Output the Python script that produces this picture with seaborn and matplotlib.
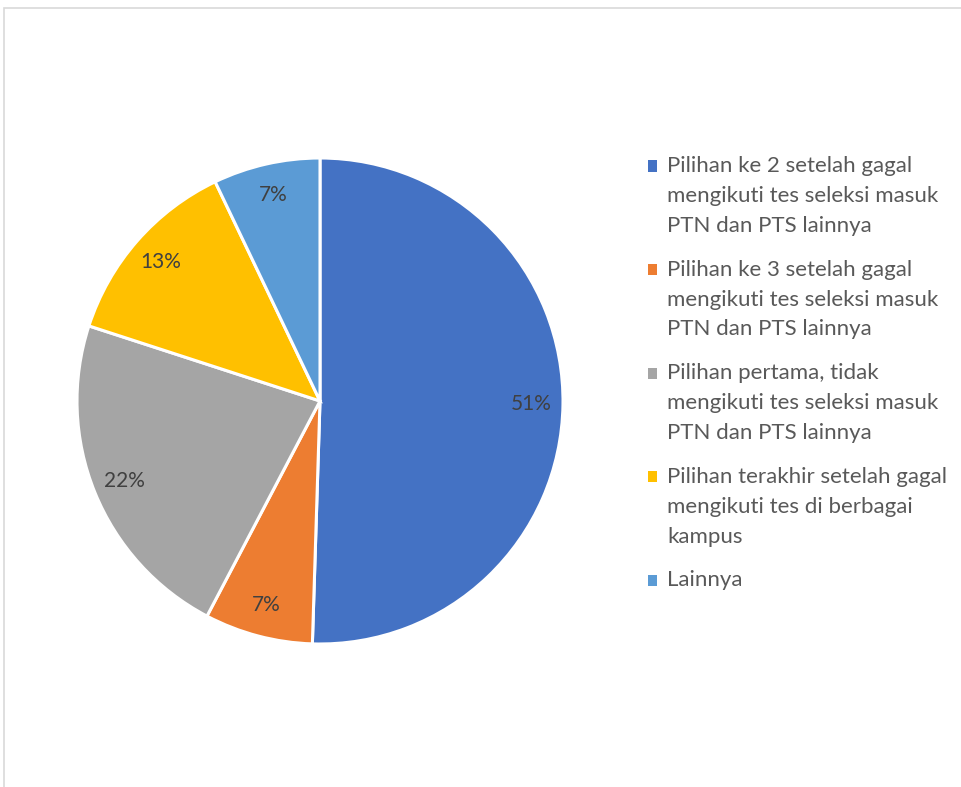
import matplotlib
matplotlib.use("Agg")
import matplotlib.pyplot as plt
import matplotlib.patches as mpatches
import seaborn as sns

sns.set_theme(style="white")
plt.rcParams['font.family'] = ['Lato', 'DejaVu Sans']

# data
categories = [
    "Pilihan ke 2 setelah gagal\nmengikuti tes seleksi masuk\nPTN dan PTS lainnya",
    "Pilihan ke 3 setelah gagal\nmengikuti tes seleksi masuk\nPTN dan PTS lainnya",
    "Pilihan pertama, tidak\nmengikuti tes seleksi masuk\nPTN dan PTS lainnya",
    "Pilihan terakhir setelah gagal\nmengikuti tes di berbagai\nkampus",
    "Lainnya",
]
shares = [50.5, 7.2, 22.3, 12.9, 7.1]
pct_labels = ["51%", "7%", "22%", "13%", "7%"]
colors = ["#4472C4", "#ED7D31", "#A5A5A5", "#FFC000", "#5B9BD5"]

W, H = 961, 787
DPI = 100
fig = plt.figure(figsize=(W / DPI, H / DPI), dpi=DPI)

# chart-area border (only top and left visible)
fig.patches.append(mpatches.Rectangle((3.5 / W, -0.1), 1.1, (H - 8) / H + 0.1,
                                      transform=fig.transFigure, fill=False,
                                      edgecolor="#D9D9D9", linewidth=1.2))

cx, cy, r = 320, 401, 243
ax = fig.add_axes([(cx - r) / W, (H - cy - r) / H, 2 * r / W, 2 * r / H])
wedges, texts, autotexts = ax.pie(
    shares, colors=colors, startangle=90, counterclock=False,
    autopct="%.0f%%", pctdistance=0.87,
    wedgeprops=dict(edgecolor="white", linewidth=2.2),
    textprops=dict(color="#404040", fontsize=15))
for t, lab in zip(autotexts, pct_labels):
    t.set_text(lab)
for w in wedges:
    w.set_clip_on(False)
ax.set_xlim(-1, 1)
ax.set_ylim(-1, 1)
ax.set_aspect("auto")
ax.axis("off")

fs = 16
leg = fig.legend(wedges, categories, loc="upper left",
                 bbox_to_anchor=(648 / W, 1 - 156 / H),
                 frameon=False, fontsize=fs, handlelength=0.4,
                 handleheight=0.4, handletextpad=0.45, labelspacing=1.07,
                 borderaxespad=0, borderpad=0)
for t in leg.get_texts():
    t.set_color("#595959")
    t.set_linespacing(1.62)
for h in leg.legend_handles:
    h.set_edgecolor("none")

# move each legend square up to the first line of its label
fig.canvas.draw()
renderer = fig.canvas.get_renderer()
texts_l = leg.get_texts()
line_h = texts_l[-1].get_window_extent(renderer).height
for h, t in zip(leg.legend_handles, texts_l):
    tb = t.get_window_extent(renderer)
    hb = h.get_window_extent(renderer)
    target = tb.y1 - line_h / 2
    shift = (target - (hb.y0 + hb.y1) / 2) * 72 / DPI
    h.set_y(h.get_y() + shift)

fig.savefig("out.png", dpi=DPI)
